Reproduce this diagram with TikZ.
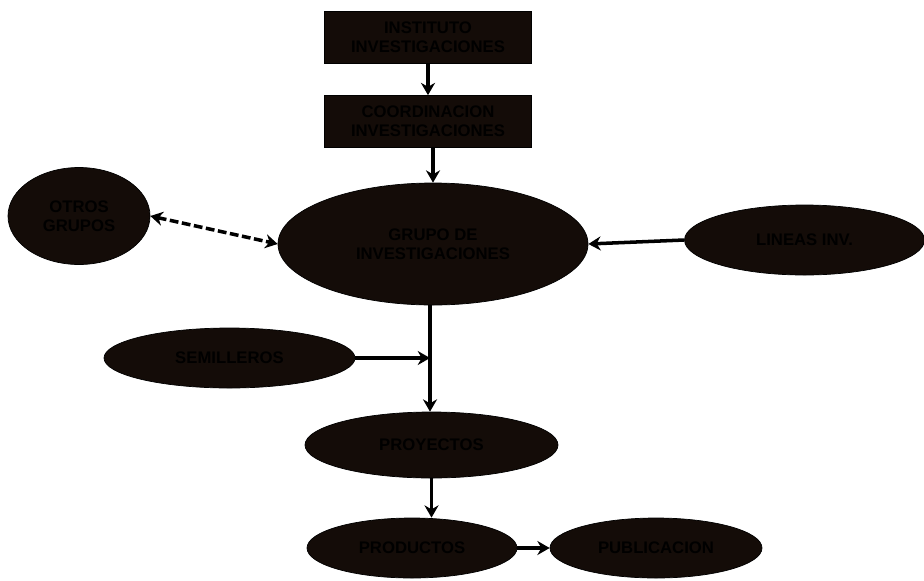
\documentclass[tikz,border=0pt]{standalone}
\usepackage{fontspec}
\setmainfont{Liberation Sans}
\usepackage{tikz}
\usetikzlibrary{shapes.geometric, arrows.meta, positioning}
\definecolor{darkfill}{RGB}{20,12,8}

\begin{document}
\begin{tikzpicture}[
        font=\bfseries\fontsize{9.5}{11}\selectfont,
        box/.style={draw=black, fill=darkfill, text=black, minimum width=4.14cm, minimum height=1.04cm, align=center, inner sep=2pt},
        oval/.style={draw=black, fill=darkfill, text=black, ellipse, align=center, inner sep=0pt},
        arr/.style={-{Stealth[length=7pt,width=8pt]}, line width=2pt},
        dasharr/.style={{Stealth[length=7pt,width=8pt]}-{Stealth[length=7pt,width=8pt]}, line width=2pt, dash pattern=on 5pt off 2pt}
        ]
        \useasboundingbox (0,0) rectangle (18.48,-11.6);
        \node[box] (A) at (8.56,-0.74) {INSTITUTO\\INVESTIGACIONES};
        \node[box] (B) at (8.56,-2.43) {COORDINACION\\INVESTIGACIONES};
        \node[oval, minimum width=6.2cm, minimum height=2.44cm] (C) at (8.66,-4.88) {GRUPO DE\\INVESTIGACIONES};
        \node[oval, minimum width=2.84cm, minimum height=1.94cm] (D) at (1.58,-4.32) {OTROS\\GRUPOS};
        \node[oval, minimum width=4.8cm, minimum height=1.4cm] (E) at (16.09,-4.8) {LINEAS INV.};
        \node[oval, minimum width=5.02cm, minimum height=1.2cm] (F) at (4.59,-7.16) {SEMILLEROS};
        \node[oval, minimum width=5.06cm, minimum height=1.32cm] (G) at (8.63,-8.9) {PROYECTOS};
        \node[oval, minimum width=4.2cm, minimum height=1.2cm] (H) at (8.24,-10.96) {PRODUCTOS};
        \node[oval, minimum width=4.24cm, minimum height=1.2cm] (I) at (13.12,-10.96) {PUBLICACION};
        \coordinate (J) at (8.6,-7.16);
        \draw[arr] (A) -- (B);
        \draw[arr] (B.south -| C.north) -- (C.north);
        \draw[dasharr] (D.east) -- (C.west);
        \draw[arr] (E.west) -- (C.east);
        \draw[arr] (C.south -| J) -- (G.north -| J);
        \draw[arr] (F.east) -- (J);
        \draw[arr] (G.south) -- (G.south |- H.north);
        \draw[arr] (H.east) -- (I.west);
    \end{tikzpicture}
\end{document}
